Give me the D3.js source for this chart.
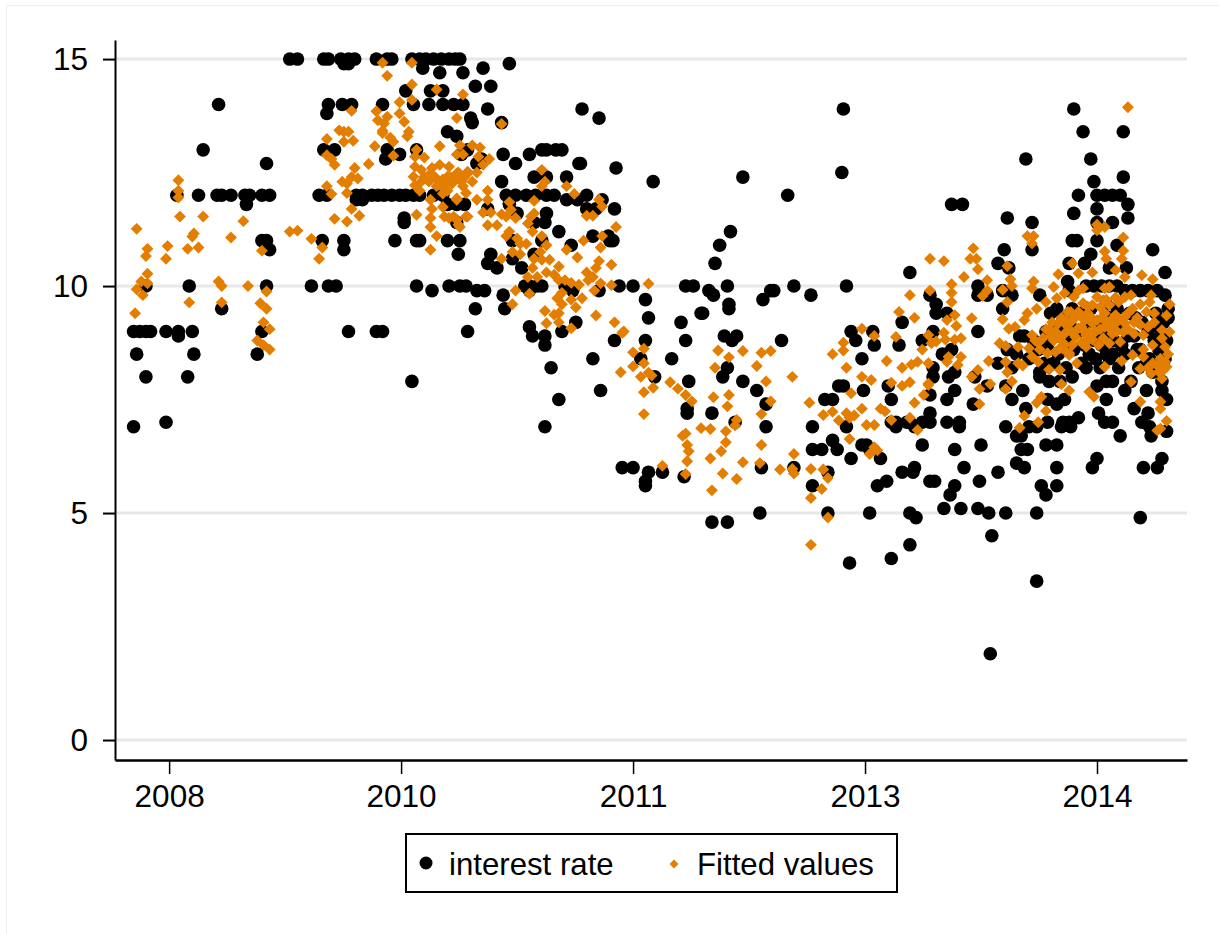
<!DOCTYPE html>
<html>
<head>
<meta charset="utf-8">
<script src="https://cdn.jsdelivr.net/npm/d3@7"></script>
<style>
  body { margin: 0; background: white; }
  text { font-family: "Liberation Sans", Arial, sans-serif; fill: black; }
</style>
</head>
<body>
<div id="chart"></div>
<script>
// Values: [decimal year, value]
const rate2008 = [
  [2008.27,6.9],[2008.29,8.5],[2008.27,9],[2008.31,9],[2008.35,9],[2008.38,9],[2008.35,8],[2008.35,10],
  [2008.48,9],[2008.48,7],[2008.56,9],[2008.56,8.9],[2008.65,9],[2008.62,8],[2008.66,8.5],[2008.63,10],
  [2008.72,13],[2008.82,14],[2008.55,12],[2008.69,12],[2008.81,12],[2008.84,12],[2008.90,12],[2008.99,12],
  [2009.02,12],[2009.10,12],[2009.15,12],[2009.0,11.8],[2009.13,12.7],[2009.10,11],[2009.13,11],[2009.15,10.8],
  [2009.13,10],[2009.10,9],[2009.07,8.5],[2008.84,9.5]
];
const rate2010 = [
  [2009.28,15],[2009.33,15],[2009.50,15],[2009.53,15],[2009.61,15],[2009.66,15],[2009.70,15],[2009.84,15],[2009.91,15],[2009.94,15],
  [2010.07,15],[2010.12,15],[2010.16,15],[2010.21,15],[2010.26,15],[2010.31,15],[2010.35,15],[2010.38,15],
  [2009.63,14.9],[2009.66,14.9],[2010.14,14.8],[2010.25,14.7],[2010.40,14.7],[2010.53,14.8],[2010.70,14.9],
  [2010.48,14.4],[2010.58,14.4],[2010.03,14.3],[2010.19,14.3],[2010.27,14.3],
  [2009.53,14],[2009.62,14],[2009.68,14],[2009.88,14],[2010.08,14],[2010.18,14],[2010.27,14],[2010.34,14],[2010.40,14],
  [2010.56,13.9],[2009.52,13.8],[2010.45,13.7],[2010.46,13.6],[2010.65,13.6],[2010.30,13.4],[2010.36,13.3],
  [2009.50,13],[2009.57,13],[2009.91,13],[2010.10,13],[2010.43,13],[2009.99,12.9],[2010.39,12.9],[2010.66,12.9],
  [2009.90,12.8],[2010.52,12.8],[2010.49,12.7],
  [2009.47,12],[2009.52,12],[2009.71,12],[2009.75,12],[2009.81,12],[2009.85,12],[2009.89,12],[2009.94,12],[2009.99,12],
  [2010.03,12],[2010.08,12],[2010.12,12],[2010.21,12],[2010.27,12],[2009.71,11.9],[2009.75,11.9],
  [2010.30,11.8],[2010.41,11.8],[2010.36,11.8],[2010.56,11.7],
  [2009.49,11],[2009.63,11],[2009.96,11],[2010.10,11],[2010.12,11],[2010.30,11],[2010.38,11],[2009.63,10.8],[2010.37,10.7],
  [2010.02,11.5],[2010.02,11.4],[2010.36,11.4],
  [2009.42,10],[2009.53,10],[2009.58,10],[2010.10,10],[2010.20,9.9],[2010.31,10],[2010.38,10],[2010.42,10],[2010.49,9.9],[2010.54,9.9],
  [2010.66,9.8],[2010.48,9.5],[2010.67,9.5],[2009.66,9],[2009.84,9],[2009.88,9],[2010.43,9],[2010.07,7.9],
  [2010.58,10.7],[2010.56,10.5],[2010.62,10.4]
];
const rate2011 = [
  [2010.72,10.6],[2010.78,10.4],[2010.86,10.7],[2010.83,12.9],[2010.74,12.7],[2010.91,13],[2010.94,13],[2011.0,13],[2011.04,13],
  [2011.15,12.7],[2011.16,12.7],[2011.07,12.4],[2010.86,12.4],[2010.94,12.4],[2010.65,12.3],
  [2010.68,12],[2010.74,12],[2010.81,12],[2010.87,12],[2010.94,12],[2010.99,12],[2011.2,12],[2011.07,11.9],[2011.14,11.9],[2011.3,11.9],
  [2011.2,11.7],[2011.26,11.7],[2011.38,11.7],[2010.94,11.6],[2010.75,11.6],[2010.70,11.8],[2010.93,11.4],[2010.86,11.4],[2011.02,11.2],
  [2010.72,11],[2010.91,11],[2011.35,11],[2011.37,11],[2011.24,11.1],[2011.34,11.1],[2011.10,10.9],[2011.17,13.9],[2011.28,13.7],[2011.39,12.6],[2011.63,12.3],
  [2010.80,10],[2010.83,10],[2010.88,10],[2010.91,10],[2011.06,10],[2011.11,9.9],[2011.28,9.9],[2011.41,10],[2011.50,10],[2011.84,10],[2011.89,10],
  [2011.58,9.7],[2011.60,9.3],[2011.81,9.2],[2011.94,9.4],[2010.83,9.9],[2010.83,9.1],[2011.04,9],[2011.13,9.2],[2010.85,8.9],[2010.93,8.9],
  [2011.38,8.8],[2011.58,8.8],[2011.84,8.8],[2011.55,8.4],[2011.75,8.4],[2011.64,8],[2010.93,8.7],[2010.97,8.2],[2011.02,7.5],[2010.93,6.9],
  [2011.24,8.4],[2011.29,7.7],[2011.43,6],[2011.50,6],[2011.60,5.9],[2011.69,5.9],[2011.58,5.7],[2011.58,5.6],[2011.83,5.8],[2011.86,7.9],
  [2011.85,7.3],[2011.85,7.2],[2012.01,7.2],[2012.01,4.8],[2012.11,4.8],[2012.09,8.9],[2012.17,8.9],[2012.14,8.8],[2012.11,8.2],[2012.08,8],
  [2012.21,7.9],[2012.16,7],[2012.12,9.6],[2012.34,9.7],[2011.95,9.4],[2012.46,8.8],[2012.30,7.7],[2012.36,7.4],[2012.36,6.9],[2012.33,6],[2012.32,5],
  [2012.54,6],[2012.39,9.9],[2012.41,9.9],[2012.54,10],[2012.50,12],[2012.21,12.4],[2012.06,10.9],[2012.13,11.2],[2012.03,10.5],[2011.99,9.9],[2012.02,9.8],
  [2012.11,10],[2012.12,9.5],[2012.65,9.8]
];
const rate2013 = [
  [2012.66,6.9],[2012.74,7.5],[2012.79,7.5],[2012.79,6.6],[2012.66,6.4],[2012.72,6.4],[2012.82,6.4],[2012.66,5.6],[2012.76,5.9],[2012.76,5],
  [2012.83,7.8],[2012.86,7.8],[2012.88,6.9],[2012.91,6.2],[2012.90,3.9],[2012.91,9],[2013.05,9],[2012.94,8.8],[2013.06,8.7],[2012.98,8.4],[2012.99,7.7],
  [2013.01,6.5],[2012.98,6.5],[2013.03,6.4],[2013.10,6.2],[2013.03,5],[2013.08,5.6],[2013.14,5.7],[2012.86,13.9],[2012.85,12.5],[2012.88,10],
  [2013.22,8.7],[2013.24,9.2],[2013.15,7.8],[2013.17,7.5],[2013.17,7],[2013.20,6.9],[2013.27,7],[2013.32,6.9],[2013.37,6.5],[2013.24,5.9],[2013.31,5.9],
  [2013.32,6],[2013.29,5],[2013.33,4.9],[2013.29,4.3],[2013.17,4],[2013.29,10.3],[2013.42,9.8],[2013.46,9.6],[2013.46,9.4],[2013.53,9.4],[2013.44,9],
  [2013.37,8.8],[2013.50,8.5],[2013.56,8.6],[2013.44,8.2],[2013.44,8],[2013.54,8],[2013.58,8.1],[2013.71,8],[2013.58,7.7],[2013.53,7.5],[2013.42,7.6],
  [2013.42,7.2],[2013.20,7],[2013.29,7],[2013.37,7],[2013.42,7],[2013.53,7],[2013.61,7],[2013.61,6.9],[2013.58,6.4],[2013.42,5.7],[2013.45,5.7],
  [2013.58,5.6],[2013.55,5.4],[2013.51,5.1],[2013.62,5.1],[2013.75,6.5],[2013.64,6],[2013.70,7.4],[2013.74,5.7],[2013.73,5.1],[2013.73,10],[2013.73,9.8],
  [2013.79,9.8],[2013.89,9.9],[2013.95,9.8],[2013.89,9.5],[2013.73,9],[2014.0,8.9],[2013.79,7.8],[2013.91,7.8],[2013.95,8.2],[2013.82,4.5],[2013.80,5],
  [2013.91,5],[2013.81,1.9],[2013.56,11.8],[2013.63,11.8],[2013.92,11.5],[2013.90,10.8],[2013.86,10.5],[2013.93,10.4],[2013.86,5.9]
];
const rate2014 = [
  [2014.04,12.8],[2014.08,11.4],[2014.08,10.8],[2014.35,13.9],[2014.41,13.4],[2014.67,13.4],[2014.46,12.8],[2014.67,12.4],[2014.48,12.3],
  [2014.38,12],[2014.50,12],[2014.55,12],[2014.60,12],[2014.65,12],[2014.70,11.8],[2014.50,11.7],[2014.35,11.6],[2014.70,11.5],[2014.50,11.4],[2014.60,11.4],
  [2014.34,11],[2014.37,11],[2014.50,11],[2014.63,10.9],[2014.86,10.8],[2014.46,10.7],[2014.32,10.5],[2014.42,10.5],[2014.58,10.4],[2014.69,10.4],[2014.94,10.3],
  [2014.31,10.1],[2014.32,9.9],[2014.43,10],[2014.48,10],[2014.53,10],[2014.58,10],[2014.63,10],[2014.68,9.9],[2014.73,9.9],[2014.78,9.9],[2014.83,9.9],[2014.89,9.9],
  [2014.94,9.8],[2014.96,9.5],[2014.96,9.3],[2014.13,9.8],[2014.24,9.5],[2014.17,9],[2014.21,9],
  [2014.28,9.3],[2014.33,9.1],[2014.38,9],[2014.44,9.2],[2014.48,8.8],[2014.51,9.1],[2014.55,8.9],[2014.58,9.3],[2014.61,8.8],[2014.65,9.2],[2014.70,8.9],[2014.74,8.9],
  [2014.78,8.6],[2014.83,9],[2014.87,8.8],[2014.90,9.1],[2014.90,8.6],[2014.84,8.4],[2014.68,8.5],[2014.58,8.4],[2014.45,8.5],[2014.35,8.6],[2014.25,8.5],[2014.18,8.7],[2014.12,8.6],[2014.06,8.4],
  [2014.77,8.2],[2014.94,8.4],[2014.86,8.1],[2014.56,8.5],[2014.56,7.9],[2014.60,7.9],[2014.72,7.9],[2014.13,8],[2014.34,8],[2014.13,8.1],[2014.19,7.9],[2014.26,7.9],[2014.43,8.2],[2014.50,7.8],
  [2014.82,7.7],[2014.92,7.7],[2014.95,7.5],[2014.56,7.5],[2013.95,7.5],[2014.02,7.7],[2014.74,7.3],[2014.83,7.2],[2014.51,7.2],[2014.18,7.5],[2014.29,7.5],[2014.24,7.4],[2014.04,7.3],[2014.38,7.1],
  [2014.18,7],[2014.28,7],[2014.32,7],[2014.55,7],[2014.60,7],[2014.79,7],[2013.91,6.9],[2014.06,6.9],[2014.11,6.9],[2014.27,6.9],[2014.33,6.9],[2014.84,6.9],[2014.95,6.8],[2014.85,6.7],
  [2014.65,6.7],[2014.01,6.7],[2013.98,6.7],[2014.17,6.5],[2014.24,6.5],[2014.01,6.4],[2014.05,6.4],[2014.50,6.2],[2014.92,6.2],[2014.47,6],[2014.89,6],[2014.80,6],[2013.98,6.1],[2014.03,6],[2014.24,6],
  [2014.14,5.6],[2014.24,5.6],[2014.17,5.4],[2014.11,5],[2014.78,4.9],[2014.11,3.5]
];
const rateDense = [
  [2014.20,9.4],[2014.26,9.1],[2014.30,8.8],[2014.34,9.5],[2014.39,9.4],[2014.42,8.7],[2014.46,9.5],[2014.49,8.4],[2014.53,8.7],[2014.56,9.6],[2014.60,8.5],[2014.63,9.5],[2014.66,8.7],[2014.71,9.4],
  [2014.75,9.3],[2014.79,9.2],[2014.82,8.3],[2014.88,9.4],[2014.91,8.9],[2014.93,9.2],[2014.95,8.8],[2014.25,8.9],[2014.22,8.3],[2014.30,8.2],[2014.40,8.3],[2014.52,8.2],[2014.64,8.2],[2014.68,7.7],
  [2014.76,8.6],[2014.88,8.3],[2014.92,7.9],[2014.16,8.3],[2014.09,8.8],[2014.03,8.9],[2013.98,8.5],[2013.92,8.6],[2013.86,8.3]
];

const fitted2008 = [
  [2008.29,11.26],[2008.36,10.82],[2008.35,10.66],[2008.49,10.88],[2008.48,10.6],[2008.36,10.27],[2008.32,10.1],[2008.36,10.06],[2008.29,9.93],[2008.33,9.8],[2008.28,9.4],
  [2008.56,12.33],[2008.56,12.1],[2008.56,11.95],[2008.57,11.53],[2008.72,11.53],[2008.66,11.16],[2008.65,11.09],[2008.62,10.82],[2008.69,10.85],[2008.82,10.1],[2008.84,10],
  [2008.63,9.64],[2008.84,9.64],[2008.98,11.43],[2008.90,11.07],[2009.10,10.78],[2009.01,10],[2009.13,9.88],[2009.09,9.62],[2009.13,9.5],[2009.11,9.2],[2009.15,9.05],[2009.07,8.8],[2009.11,8.7],[2009.15,8.6],
  [2009.28,11.2],[2009.33,11.22],[2009.42,11.04],[2009.49,10.85],[2009.47,10.6]
];
const fitted2010 = [
  [2009.52,12.2],[2009.55,12.03],[2009.65,12.05],[2009.68,11.7],[2009.57,11.48],[2009.65,11.42],[2009.73,11.55],[2009.62,12.3],[2009.65,12.26],[2009.68,12.4],[2009.72,12.37],[2009.70,12.6],
  [2009.57,12.67],[2009.52,12.88],[2009.55,12.8],[2009.52,13.24],[2009.63,13.4],[2009.60,13.43],[2009.66,13.4],[2009.63,13.18],[2009.69,13.2],[2009.68,13.86],[2009.84,13.85],[2009.85,13.65],
  [2009.91,13.73],[2009.89,13.58],[2009.88,13.42],[2009.88,13.37],[2009.93,13.27],[2009.95,13.18],[2009.83,13.08],[2009.79,12.69],[2009.99,14.05],[2009.99,13.8],[2010.02,13.62],[2010.04,13.3],[2010.05,13.4],
  [2009.88,14.92],[2009.91,14.63],[2010.07,14.92],[2010.07,14.44],[2010.07,14.1],[2010.23,14.33],[2010.40,14.22],[2010.36,13.7],[2009.95,12.87],[2010.10,13.0],[2010.25,13.08],[2010.09,12.85],[2010.15,12.83],[2010.38,13.1],[2010.40,12.9],[2010.36,12.9],
  [2010.09,12.63],[2010.13,12.56],[2010.08,12.41],[2010.15,12.41],[2010.19,12.48],[2010.09,12.22],[2010.18,12.3],[2010.25,12.67],[2010.27,12.04],[2010.30,12.41],[2010.31,12.63],[2010.33,12.26],[2010.36,12.48],[2010.43,12.48],
  [2010.19,11.9],[2010.20,11.7],[2010.27,11.74],[2010.28,11.53],[2010.10,11.57],[2010.19,11.5],[2010.31,11.5],[2010.37,11.35],[2010.19,11.3],[2010.23,11.1],[2010.19,10.8],[2010.42,11.53],[2010.36,11.9],
  [2010.46,13.1],[2010.51,13.05],[2010.50,12.85],[2010.57,12.8],[2010.53,12.67],[2010.43,12.52],[2010.49,12.5],[2010.37,12.5],[2010.65,13.57],[2010.46,12.3],[2010.39,12.3],[2010.40,12.2],[2010.42,12.05],[2010.36,11.93],
  [2010.49,11.9],[2010.56,12.1],[2010.56,11.9],[2010.43,11.53],[2010.36,11.46],[2010.38,11.3],[2010.34,11.53],
  [2010.22,12.4],[2010.25,12.3],[2010.27,12.35],[2010.29,12.25],[2010.32,12.4],[2010.34,12.32],[2010.28,12.15],[2010.23,12.2],[2010.13,12.3],[2010.20,12.6],[2010.38,12.38],[2010.41,12.4],[2010.30,12.1],[2010.12,12.1]
];
const fitted2011 = [
  [2010.53,11.62],[2010.58,11.62],[2010.56,11.34],[2010.62,11.34],[2010.65,11.58],[2010.70,11.85],[2010.71,11.68],[2010.68,11.53],[2010.74,11.5],[2010.84,11.53],[2010.86,11.6],[2010.82,11.38],
  [2010.86,11.88],[2010.91,12.56],[2010.91,12.2],[2010.93,12.3],[2011.07,12.2],[2011.12,12.03],[2011.28,11.9],[2011.30,11.75],[2011.20,11.55],[2011.24,11.55],[2011.39,11.3],[2011.18,11.0],[2011.30,11.1],[2011.29,10.85],
  [2011.07,10.8],[2011.14,10.63],[2011.28,10.55],[2011.36,10.47],[2011.26,10.4],[2010.85,11.2],[2010.91,11.1],[2010.70,11.2],[2010.68,11.1],[2010.75,11.05],[2010.77,10.93],[2010.81,10.93],[2010.94,10.9],[2010.90,10.75],
  [2010.72,10.75],[2010.77,10.7],[2010.65,10.6],[2010.86,10.6],[2010.91,10.58],[2010.96,10.58],[2011.02,10.43],[2010.85,10.4],[2010.94,10.3],[2010.99,10.25],[2011.02,10.13],[2011.06,10.13],[2010.88,10.2],[2010.82,10.2],
  [2011.20,10.3],[2011.24,10.2],[2011.21,10.13],[2011.29,10.06],[2011.36,10.02],[2011.60,10.05],[2011.10,10.07],[2011.15,10.03],[2011.25,9.9],[2011.17,9.73],[2011.10,9.7],[2011.04,9.85],[2011.01,9.73],
  [2010.83,9.83],[2010.74,9.9],[2010.72,9.6],[2011.04,9.6],[2011.13,9.53],[2010.93,9.45],[2011.02,9.4],[2010.99,9.37],[2011.26,9.35],[2011.38,9.2],[2011.02,9.2],[2010.94,9.18],[2011.10,9.07],[2011.44,9.0],
  [2011.43,8.97],[2011.57,8.62],[2011.50,8.54],[2011.50,8.23],[2011.42,8.1],[2011.57,8.3],[2011.60,8.09],[2011.62,8.03],[2011.55,8.0],[2011.63,7.76],[2011.57,7.66],[2011.57,7.18],[2011.74,7.88],[2011.79,7.74],[2011.84,7.6],[2011.88,7.46],
  [2012.05,8.58],[2012.12,8.43],[2012.21,8.57],[2012.33,8.53],[2012.39,8.57],[2012.03,8.2],[2012.30,8.24],[2012.53,8.0],[2012.36,7.9],[2012.12,7.6],[2012.02,7.55],[2012.11,7.35],[2012.39,7.46],[2012.33,7.18],
  [2012.17,7.05],[2012.16,6.93],[2011.94,6.87],[2012.00,6.85],[2012.10,6.8],[2011.84,6.75],[2011.82,6.7],[2012.10,6.56],[2011.85,6.5],[2012.33,6.5],[2011.86,6.36],[2012.07,6.36],[2012.00,6.2],[2011.85,6.14],[2012.21,6.12],
  [2012.32,6.1],[2012.54,6.3],[2011.69,6.04],[2011.84,5.86],[2012.08,5.87],[2012.17,5.75],[2012.01,5.5],[2012.45,5.96],[2012.53,5.97],[2012.54,5.87]
];
const fitted2013 = [
  [2012.65,5.97],[2012.73,5.96],[2012.76,5.77],[2012.72,5.53],[2012.65,5.33],[2012.76,4.9],[2012.65,4.3],[2012.64,7.43],[2012.73,7.16],[2012.79,7.23],[2012.83,7.04],[2012.88,7.2],[2012.90,7.1],[2012.93,7.15],[2012.98,7.3],
  [2012.88,8.2],[2012.86,8.58],[2012.79,8.5],[2012.86,8.75],[2012.98,9.06],[2013.06,8.9],[2013.20,8.88],[2013.22,9.43],[2013.32,9.3],[2013.14,8.35],[2013.24,8.2],[2013.30,8.27],[2013.34,8.33],[2012.98,8.0],[2013.04,7.93],
  [2012.91,7.64],[2013.17,7.87],[2013.24,7.8],[2013.29,7.88],[2013.32,7.43],[2013.10,7.3],[2013.13,7.24],[2013.17,7.05],[2013.29,7.1],[2013.01,6.94],[2013.06,6.94],[2012.90,6.63],[2013.06,6.45],[2013.08,6.38],[2013.03,6.3],
  [2013.34,6.83],[2013.38,7.6],[2013.41,7.82],[2013.41,8.3],[2013.37,8.6],[2013.43,8.74],[2013.46,8.78],[2013.41,8.92],[2013.29,9.8],[2013.42,10.6],[2013.51,10.55],[2013.42,9.9],[2013.56,10.04],[2013.56,9.85],[2013.56,9.65],
  [2013.64,10.2],[2013.58,9.36],[2013.53,9.25],[2013.59,9.12],[2013.51,8.97],[2013.52,8.82],[2013.58,8.82],[2013.62,8.85],[2013.54,8.44],[2013.53,8.33],[2013.62,8.44],[2013.60,8.26],[2013.41,7.85],
  [2013.70,10.83],[2013.68,10.6],[2013.72,10.6],[2013.73,10.37],[2013.79,10.13],[2013.79,9.9],[2013.76,9.78],[2013.69,9.29],[2013.80,8.35],[2013.73,8.15],[2013.69,8.0],[2013.74,7.73],[2013.81,7.84],[2013.74,7.4],[2013.91,7.73],[2013.95,7.9],
  [2013.91,8.33],[2013.92,8.1],[2013.92,10.44],[2013.94,10.15],[2013.95,10],[2013.89,9.92],[2013.92,9.65],[2013.89,9.27],[2013.93,9.06],[2013.97,9.1],[2013.87,8.74],[2013.91,8.68]
];
const fitted2014 = [
  [2013.99,8.66],[2013.99,8.3],[2014.02,8.25],[2014.05,11.1],[2014.09,11.1],[2014.08,10.94],[2014.25,10.26],[2014.09,10.1],[2014.08,9.95],[2014.17,9.65],[2014.05,9.4],[2014.03,9.25],[2014.11,9.5],[2014.08,8.92],[2014.06,8.63],[2014.13,8.6],
  [2014.08,8.44],[2014.12,8.33],[2014.18,8.52],[2014.19,8.16],[2014.26,8.15],[2014.03,7.14],[2014.0,6.88],[2014.12,7.0],[2014.11,7.43],[2014.14,7.56],[2014.17,7.25],[2014.27,7.84],[2014.32,7.7],[2014.45,7.67],[2014.48,7.56],[2014.55,8.22],
  [2014.66,8.35],[2014.37,8.3],[2014.32,8.48],[2014.22,9.98],[2014.24,9.73],[2014.29,9.84],[2014.21,9.2],[2014.17,9.05],[2014.25,9.18],[2014.31,9.43],[2014.35,9.76],[2014.38,9.9],[2014.41,9.95],[2014.34,10.5],[2014.38,10.28],[2014.47,10.3],
  [2014.50,11.35],[2014.50,11.23],[2014.55,11.3],[2014.67,11.07],[2014.67,10.78],[2014.66,10.6],[2014.55,10.76],[2014.56,10.6],[2014.62,10.35],[2014.68,10.2],[2014.79,10.24],[2014.86,10.15],[2014.55,9.95],[2014.58,9.98],[2014.50,9.76],[2014.54,9.69],
  [2014.47,9.58],[2014.52,9.54],[2014.38,9.43],[2014.33,9.43],[2014.58,9.58],[2014.64,9.65],[2014.68,9.76],[2014.72,9.8],[2014.85,9.8],[2014.84,9.65],[2014.97,9.6],[2014.95,9.35],[2014.82,9.43],[2014.87,9.4],[2014.87,9.2],
  [2014.68,9.32],[2014.62,9.36],[2014.55,9.4],[2014.62,9.18],[2014.58,9.07],[2014.68,9.18],[2014.29,9.18],[2014.32,9.03],[2014.26,8.85],[2014.38,9.07],[2014.47,9.18],[2014.36,8.88],[2014.43,8.92],[2014.22,8.8],[2014.26,8.63],[2014.32,8.52],
  [2014.43,8.66],[2014.51,8.7],[2014.58,8.74],[2014.67,8.99],[2014.74,8.95],[2014.80,8.92],[2014.92,9.03],[2014.97,8.99],[2014.86,8.7],[2014.92,8.85],[2014.94,8.66],[2014.65,8.77],[2014.73,8.48],[2014.80,8.6],[2014.80,8.44],[2014.91,8.4],
  [2014.94,8.33],[2014.95,8.22],[2014.85,8.07],[2014.92,7.96],[2014.78,8.18],[2014.72,7.89],[2014.90,8.11],[2014.78,7.45],[2014.91,7.45],[2014.91,7.3],[2014.95,7.03],[2014.91,6.86],[2014.89,6.82],[2014.70,13.94]
];
const fittedDense = [
  [2014.19,9.05],[2014.23,9.0],[2014.27,9.3],[2014.30,9.25],[2014.33,9.2],[2014.36,9.3],[2014.40,9.32],[2014.42,9.25],[2014.44,9.4],[2014.46,9.32],[2014.50,9.25],[2014.53,9.3],[2014.56,9.22],[2014.60,9.28],[2014.64,9.25],[2014.70,9.4],
  [2014.73,9.5],[2014.76,9.3],[2014.78,9.6],[2014.40,9.1],[2014.42,9.0],[2014.45,8.98],[2014.49,9.0],[2014.52,9.05],[2014.55,9.1],[2014.60,8.95],[2014.63,9.0],[2014.70,9.05],[2014.34,8.98],[2014.29,8.95],[2014.25,8.88],[2014.20,8.9],
  [2014.15,8.85],[2014.12,8.75],[2014.10,8.8],[2014.40,8.75],[2014.44,8.8],[2014.47,8.82],[2014.54,8.85],[2014.29,8.72],[2014.23,8.55],[2014.28,8.62],[2014.34,8.7],[2014.86,8.3],[2014.89,8.25],[2014.83,8.2],[2014.96,8.5],[2014.93,8.15],
  [2014.44,9.55],[2014.41,9.62],[2014.56,9.7],[2014.62,9.75],[2014.74,9.2],[2014.78,9.15],[2014.83,9.1]
];

const interestRate = [...rate2008, ...rate2010, ...rate2011, ...rate2013, ...rate2014, ...rateDense];
const fittedValues = [...fitted2008, ...fitted2010, ...fitted2011, ...fitted2013, ...fitted2014, ...fittedDense];

const xTickValues = [2008.5, 2010, 2011.5, 2013, 2014.5];
const xTickLabels = ["2008", "2010", "2011", "2013", "2014"];
const yTickValues = [0, 5, 10, 15];
const legendLabels = ["interest rate", "Fitted values"];

const width = 1219, height = 934;
const margin = { top: 40, right: 32, bottom: 174, left: 115 };
const black = "#000000", orange = "#e37e00", gridColor = "#e8e8e8";
const fontSize = 31.5;

// Create the SVG container
const svg = d3.select("#chart")
    .append("svg")
    .attr("width", width)
    .attr("height", height)
    .style("display", "block");

// faint outline of the graph region
svg.append("path")
    .attr("d", `M6.5,${height}V5.5H${width}`)
    .attr("fill", "none")
    .attr("stroke", "#eeeeee");

// Scales: 1.5 years between ticks is 232 pixels
const xScale = d3.scaleLinear()
    .domain([2008.15, 2015.082])
    .range([margin.left, width - margin.right]);

const yScale = d3.scaleLinear()
    .domain([-0.44, 15.42])
    .range([height - margin.bottom, margin.top]);

// Gridlines
svg.selectAll(".grid")
    .data(yTickValues)
    .enter().append("line")
    .attr("class", "grid")
    .attr("x1", margin.left)
    .attr("x2", width - margin.right)
    .attr("y1", d => yScale(d))
    .attr("y2", d => yScale(d))
    .attr("stroke", gridColor)
    .attr("stroke-width", 3);

// Points
svg.selectAll(".rate")
    .data(interestRate)
    .enter().append("circle")
    .attr("class", "rate")
    .attr("cx", d => xScale(d[0]))
    .attr("cy", d => yScale(d[1]))
    .attr("r", 6.8)
    .attr("fill", black);

const diamond = d3.symbol().type(d3.symbolDiamond2).size(90);
svg.selectAll(".fitted")
    .data(fittedValues)
    .enter().append("path")
    .attr("class", "fitted")
    .attr("d", diamond)
    .attr("transform", d => `translate(${xScale(d[0])},${yScale(d[1])})`)
    .attr("fill", orange);

// Axes
const xAxis = svg.append("g")
    .attr("transform", `translate(0,${height - margin.bottom})`)
    .call(d3.axisBottom(xScale)
        .tickValues(xTickValues)
        .tickFormat((d, i) => xTickLabels[i])
        .tickSize(14)
        .tickSizeOuter(0)
        .tickPadding(11));
const yAxis = svg.append("g")
    .attr("transform", `translate(${margin.left},0)`)
    .call(d3.axisLeft(yScale)
        .tickValues(yTickValues)
        .tickSize(12)
        .tickSizeOuter(0)
        .tickPadding(15));

xAxis.select(".domain").attr("stroke-width", 2.5);
yAxis.select(".domain").attr("stroke-width", 2);
xAxis.selectAll(".tick line").attr("stroke-width", 1.5);
yAxis.selectAll(".tick line").attr("stroke-width", 2);
svg.selectAll(".tick text")
    .style("font-family", '"Liberation Sans", Arial, sans-serif')
    .style("font-size", fontSize + "px");

// Legend
const legend = svg.append("g");
legend.append("rect")
    .attr("x", 406).attr("y", 834)
    .attr("width", 491).attr("height", 58)
    .attr("fill", "white").attr("stroke", black).attr("stroke-width", 2);
legend.append("circle")
    .attr("cx", 426).attr("cy", 863).attr("r", 6.5).attr("fill", black);
legend.append("path")
    .attr("d", d3.symbol().type(d3.symbolDiamond2).size(50))
    .attr("transform", "translate(674,864)")
    .attr("fill", orange);
legend.selectAll("text")
    .data(legendLabels)
    .enter().append("text")
    .attr("x", (d, i) => i === 0 ? 449 : 697)
    .attr("y", 875)
    .style("font-size", "31.2px")
    .text(d => d);
</script>
</body>
</html>
